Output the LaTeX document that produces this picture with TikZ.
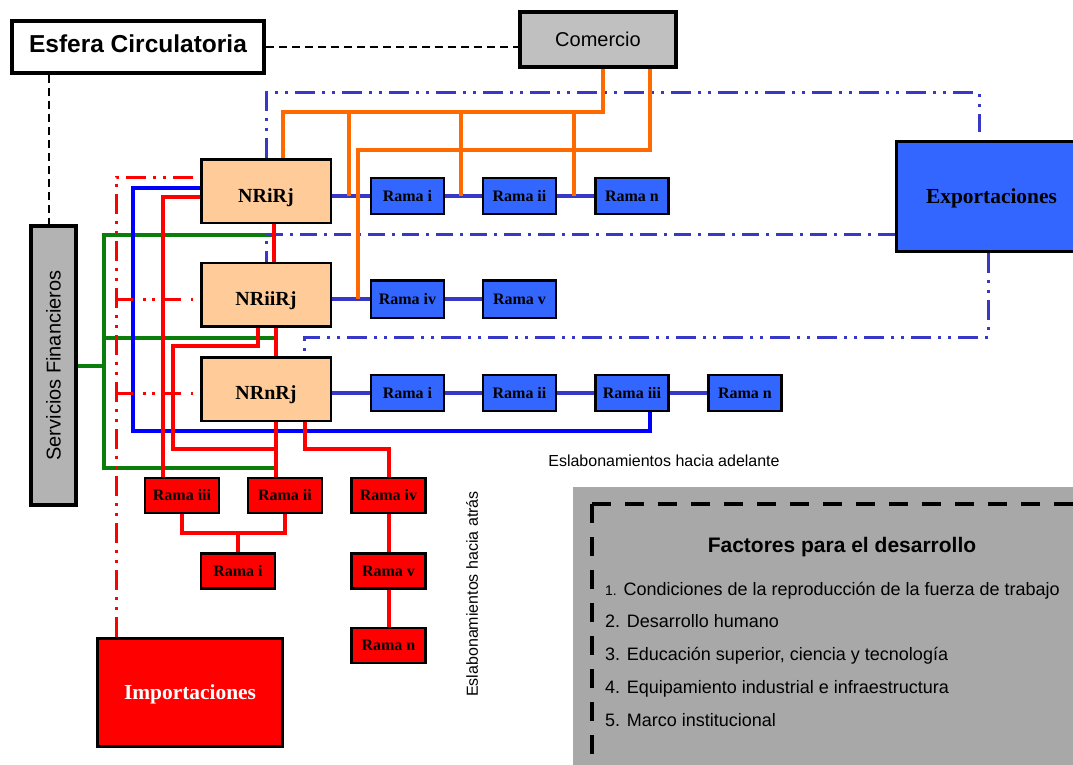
\documentclass[tikz,border=0pt]{standalone}
\usepackage{fontspec}
\setmainfont{Liberation Serif}
\newfontfamily\arial{Liberation Sans}
\definecolor{peach}{HTML}{FFCC99}
\definecolor{rblue}{HTML}{3366FF}
\definecolor{lnblue}{HTML}{3838C8}
\definecolor{orng}{HTML}{FF6A00}
\definecolor{grn}{HTML}{0A7D0A}
\definecolor{gcom}{HTML}{C0C0C0}
\definecolor{gserv}{HTML}{B3B3B3}
\definecolor{gfac}{HTML}{A8A8A8}
\newcommand{\mydown}[2]{\raisebox{#1}[\height][\depth]{#2}}
\begin{document}
\begin{tikzpicture}[x=1pt,y=-1pt,
  bigbox/.style={draw=black, line width=4pt, inner sep=0pt},
  nrbox/.style={draw=black, line width=2.5pt, fill=peach, inner sep=0pt, minimum width=129.5pt, minimum height=63.5pt, font=\fontsize{20}{20}\selectfont\bfseries},
  brama/.style={draw=black, line width=2.5pt, fill=rblue, inner sep=0pt, minimum width=73pt, minimum height=36pt, font=\fontsize{16}{16}\selectfont\bfseries},
  rrama/.style={draw=black, line width=2.5pt, fill=red, inner sep=0pt, minimum width=74pt, minimum height=35pt, font=\fontsize{16}{16}\selectfont\bfseries},
  bigcol/.style={draw=black, line width=3pt, inner sep=0pt, font=\fontsize{21.4}{21.4}\selectfont\bfseries},
  conn/.style={draw=lnblue, line width=3.5pt},
  orl/.style={draw=orng, line width=4pt},
  rdl/.style={draw=red, line width=4pt},
  gnl/.style={draw=grn, line width=4pt},
  bll/.style={draw=blue, line width=4pt},
  bdd/.style={draw=lnblue, line width=3pt, dash pattern=on 20pt off 7pt on 3pt off 7pt on 3pt off 7pt},
  bdot/.style={draw=lnblue, line width=3pt, dash pattern=on 17pt off 7pt on 3pt off 7pt},
  rdd/.style={draw=red, line width=3pt, dash pattern=on 20pt off 7pt on 3pt off 7pt on 3pt off 7pt},
  rdt/.style={draw=red, line width=3pt, dash pattern=on 17pt off 10pt on 3pt off 6pt on 3pt off 9pt},
  blk/.style={draw=black, line width=1.5pt, dash pattern=on 8pt off 5pt},
  sans/.style={font=\arial\fontsize{16}{16}\selectfont},
  item/.style={anchor=base west, inner sep=0pt, font=\arial\fontsize{18}{18}\selectfont},
]
\useasboundingbox (0,0) rectangle (1073,765);
\clip (0,0) rectangle (1073,765);
\fill[white] (0,0) rectangle (1073,765);

% factores box
\fill[gfac] (573,487) rectangle (1095,790);
\draw[black, line width=4pt, dash pattern=on 19pt off 14pt] (592,504) -- (1095,504);
\draw[black, line width=4pt, dash pattern=on 19pt off 14pt] (592,504) -- (592,790);
\node[anchor=base, inner sep=0pt, font=\arial\bfseries\fontsize{21}{21}\selectfont] (ftit) at (842,552) {Factores para el desarrollo};
\node[item] (f1) at (605,595) {{\fontsize{14}{14}\selectfont 1.} Condiciones de la reproducción de la fuerza de trabajo};
\node[item] (f2) at (605,627.5) {2. Desarrollo humano};
\node[item] (f3) at (605,660.5) {3. Educación superior, ciencia y tecnología};
\node[item] (f4) at (605,693) {4. Equipamiento industrial e infraestructura};
\node[item] (f5) at (605,726) {5. Marco institucional};

% main nodes
\node[bigbox, fill=white, minimum width=252pt, minimum height=52pt, font=\arial\bfseries\fontsize{24.5}{24.5}\selectfont] (esf) at (138,47) {\mydown{3pt}{Esfera Circulatoria}};
\node[bigbox, line width=3.5pt, fill=gcom, minimum width=156pt, minimum height=55pt, font=\arial\fontsize{20}{20}\selectfont] (com) at (598,39.5) {Comercio};
\node[bigbox, line width=3.5pt, fill=gserv, minimum width=45pt, minimum height=279pt] (serv) at (53.5,365.5) {};
\node[rotate=90, font=\arial\fontsize{20}{20}\selectfont] (servt) at (serv.center) {Servicios Financieros};

\node[nrbox] (nri) at (266,191) {\mydown{-7pt}{NRiRj}};
\node[nrbox] (nrii) at (266,294.5) {\mydown{-6pt}{NRiiRj}};
\node[nrbox] (nrn) at (266,389) {\mydown{-6pt}{NRnRj}};

\node[brama] (ri1) at (407.5,196) {Rama i};
\node[brama] (rii1) at (519.5,196) {Rama ii};
\node[brama] (rn1) at (632,196) {Rama n};
\node[brama, minimum height=37.5pt] (riv) at (407.5,299) {Rama iv};
\node[brama, minimum height=37.5pt] (rv) at (519.5,299) {Rama v};
\node[brama] (ri3) at (407.5,393) {Rama i};
\node[brama] (rii3) at (519.5,393) {Rama ii};
\node[brama] (riii3) at (632,393) {Rama iii};
\node[brama] (rn3) at (745,393) {Rama n};

\node[bigcol, fill=rblue, minimum width=190pt, minimum height=110pt] (expo) at (991.5,196.5) {\mydown{-2pt}{Exportaciones}};
\node[bigcol, fill=red, text=white, minimum width=185pt, minimum height=108pt] (imp) at (190,692.5) {\mydown{-2pt}{Importaciones}};

\node[rrama] (rIII) at (182,495.5) {Rama iii};
\node[rrama] (rII) at (285,495.5) {Rama ii};
\node[rrama] (rIV) at (388.5,495.5) {Rama iv};
\node[rrama] (rI) at (238,571) {Rama i};
\node[rrama] (rV) at (388.5,571) {Rama v};
\node[rrama] (rN) at (388.5,645.5) {Rama n};

\node[sans] (adel) at (664,461) {Eslabonamientos hacia adelante};
\node[sans, rotate=90] (atras) at (472,594) {Eslabonamientos hacia atrás};

% black dashed
\draw[blk] (esf.east) -- (com.west |- esf.east);
\draw[blk] (esf.south -| 49,0) -- (serv.north -| 49,0);

% green
\coordinate (g1) at (104,235);
\coordinate (g2) at (104,468);
\coordinate (gm) at (104,365.5);
\draw[gnl] (serv.east) -- (gm);
\draw[gnl] (274,235) -- (g1) -- (g2) -- (276,468);
\draw[gnl] (104,337.5) -- (276,337.5);

% blue dash-dot
\draw[bdd, shorten >=8pt] (nri.north) -- (266,93) -| (expo.north -| 979,0);
\draw[bdot] (expo.west |- 0,234) -- (266,234) -- (nrii.north);
\draw[bdd] (expo.south -| 988,0) -- (988,337) -| (nrn.north -| 304,0);

% blue connectors
\draw[conn] (nri.east |- ri1.west) -- (ri1.west);
\draw[conn] (ri1.east) -- (rii1.west);
\draw[conn] (rii1.east) -- (rn1.west);
\draw[conn] (nrii.east |- riv.west) -- (riv.west);
\draw[conn] (riv.east) -- (rv.west);
\draw[conn] (nrn.east |- ri3.west) -- (ri3.west);
\draw[conn] (ri3.east) -- (rii3.west);
\draw[conn] (rii3.east) -- (riii3.west);
\draw[conn] (riii3.east) -- (rn3.west);

% blue solid loop
\draw[bll] (nri.west |- 0,188) -| (133,431) -| (riii3.south -| 650,0);

% red dash-dot
\draw[rdd, shorten <=7pt] (nri.west |- 0,177) -| (imp.north -| 116,0);
\draw[rdt, shorten >=7pt] (116,299) -- (nrii.west |- 0,299);
\draw[red, line width=3pt] (116,291) -- (116,307);
\draw[rdt, shorten >=7pt] (116,393) -- (nrn.west |- 0,393);
\draw[red, line width=3pt] (116,385) -- (116,401);

% red solid
\draw[rdl] (nri.south -| 274,0) -- (nrii.north -| 274,0);
\draw[rdl] (nrii.south -| 276,0) -- (nrn.north -| 276,0);
\draw[rdl] (nrn.south -| 276,0) -- (rII.north -| 276,0);
\draw[rdl] (nrii.south -| 258,0) -- (258,346) -| (173,449) -- (276,449);
\draw[rdl] (nri.west |- 0,197) -| (rIII.north -| 163,0);
\draw[rdl] (nrn.south -| 305,0) |- (rIV.north |- 0,449) -- (rIV.north);
\draw[rdl] (rIII.south) |- (rI.north |- 0,533) -| (rII.south);
\draw[rdl] (rI.north) -- (rI.north |- 0,533);
\draw[rdl] (rIV.south) -- (rV.north);
\draw[rdl] (rV.south) -- (rN.north);

% orange
\draw[orl] (nri.north -| 283,0) -- (283,112) -| (com.south -| 603,0);
\draw[orl] (349,112) -- (ri1.west -| 349,0);
\draw[orl] (461,112) -- (ri1.west -| 461,0);
\draw[orl] (574,112) -- (ri1.west -| 574,0);
\draw[orl] (com.south -| 650,0) |- (358,150) -- (riv.west -| 358,0);
\end{tikzpicture}
\end{document}
